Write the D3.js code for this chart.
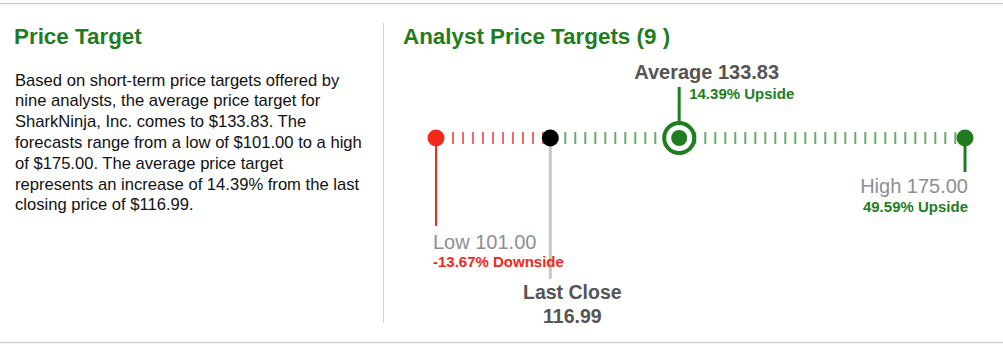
<!DOCTYPE html>
<html>
<head>
<meta charset="utf-8">
<script src="https://cdn.jsdelivr.net/npm/d3@7"></script>
<style>
  body { margin: 0; background: #fff; }
  svg { display: block; font-family: "Liberation Sans", Arial, sans-serif; }
</style>
</head>
<body>
<svg id="chart" width="1003" height="345"></svg>
<script>
// values
const lowTarget = 101.00
const highTarget = 175.00
const avgTarget = 133.83
const lastClose = 116.99
const analystCount = 9
const lowPct = '-13.67%'
const avgPct = '14.39%'
const highPct = '49.59%'

const blurbLines = [
    'Based on short-term price targets offered by',
    'nine analysts, the average price target for',
    'SharkNinja, Inc. comes to $133.83. The',
    'forecasts range from a low of $101.00 to a high',
    'of $175.00. The average price target',
    'represents an increase of 14.39% from the last',
    'closing price of $116.99.'
]

const green = '#1f7d1f'
const red = '#f2281c'
const labelGrey = '#8c8f96'
const darkGrey = '#555555'

let svg = d3.select('#chart')

// frame lines
svg.append('line').attr('x1', 0).attr('x2', 1003).attr('y1', 3.5).attr('y2', 3.5)
    .style('stroke', '#d0d0d0').style('stroke-width', 1.5)
svg.append('line').attr('x1', 0).attr('x2', 1003).attr('y1', 342.5).attr('y2', 342.5)
    .style('stroke', '#d0d0d0').style('stroke-width', 1.5)
svg.append('line').attr('x1', 383.5).attr('x2', 383.5).attr('y1', 23).attr('y2', 323)
    .style('stroke', '#d0d0d0').style('stroke-width', 1)

// left panel
svg.append('text')
    .attr('x', 14).attr('y', 44)
    .text('Price Target')
    .style('fill', green)
    .style('font-size', '22.4px')
    .style('font-weight', 'bold')

svg.append('text')
    .attr('x', 15).attr('y', 85.5)
    .style('fill', '#111')
    .style('font-size', '16.6px')
    .selectAll('tspan')
    .data(blurbLines)
    .join('tspan')
    .attr('x', 15)
    .attr('dy', (d, i) => i == 0 ? 0 : 20.8)
    .text(d => d)

// right panel
svg.append('text')
    .attr('x', 403).attr('y', 44)
    .text(`Analyst Price Targets (${analystCount} )`)
    .style('fill', green)
    .style('font-size', '22.4px')
    .style('font-weight', 'bold')

// scale gives the left edge of each marker, marker centre = left + radius
let xscale = d3.scaleLinear().domain([lowTarget, highTarget]).range([427.5, 956.5])
let lineY = 138
let dotR = 8.5
let ringR = 17

let lowX = xscale(lowTarget) + dotR
let closeX = xscale(lastClose) + dotR
let avgX = xscale(avgTarget) + ringR
let highX = xscale(highTarget) + dotR

// tick rails
svg.append('line')
    .attr('x1', lowX + 16).attr('x2', closeX - 4)
    .attr('y1', lineY).attr('y2', lineY)
    .style('stroke', '#f26a6a')
    .style('stroke-width', 12)
    .style('stroke-dasharray', '2 8')

svg.append('line')
    .attr('x1', closeX + 14).attr('x2', highX - 6)
    .attr('y1', lineY).attr('y2', lineY)
    .style('stroke', '#6cab6c')
    .style('stroke-width', 12)
    .style('stroke-dasharray', '2 8')

// stems
svg.append('line').attr('x1', lowX).attr('x2', lowX).attr('y1', lineY).attr('y2', 226)
    .style('stroke', red).style('stroke-width', 2)
svg.append('line').attr('x1', closeX).attr('x2', closeX).attr('y1', lineY).attr('y2', 279)
    .style('stroke', '#c8c8c8').style('stroke-width', 3)
svg.append('line').attr('x1', avgX).attr('x2', avgX).attr('y1', 87).attr('y2', lineY - ringR)
    .style('stroke', green).style('stroke-width', 3)
svg.append('line').attr('x1', highX).attr('x2', highX).attr('y1', lineY).attr('y2', 172)
    .style('stroke', green).style('stroke-width', 3)

// markers
svg.append('circle').attr('cx', lowX).attr('cy', lineY).attr('r', dotR).style('fill', red)
svg.append('circle').attr('cx', closeX).attr('cy', lineY).attr('r', dotR).style('fill', '#000')
svg.append('circle').attr('cx', highX).attr('cy', lineY).attr('r', dotR).style('fill', green)
svg.append('circle').attr('cx', avgX).attr('cy', lineY).attr('r', ringR - 2)
    .style('fill', '#fff').style('stroke', green).style('stroke-width', 4)
svg.append('circle').attr('cx', avgX).attr('cy', lineY).attr('r', 8).style('fill', green)

// labels
svg.append('text')
    .attr('x', avgX - 45).attr('y', 79)
    .text(`Average ${avgTarget.toFixed(2)}`)
    .style('fill', darkGrey).style('font-size', '20px').style('font-weight', 'bold')
svg.append('text')
    .attr('x', avgX + 10).attr('y', 99)
    .text(`${avgPct} Upside`)
    .style('fill', green).style('font-size', '15px').style('font-weight', 'bold')

svg.append('text')
    .attr('x', highX + 3).attr('y', 193)
    .attr('text-anchor', 'end')
    .text(`High ${highTarget.toFixed(2)}`)
    .style('fill', labelGrey).style('font-size', '20px')
svg.append('text')
    .attr('x', highX + 3).attr('y', 212)
    .attr('text-anchor', 'end')
    .text(`${highPct} Upside`)
    .style('fill', green).style('font-size', '15px').style('font-weight', 'bold')

svg.append('text')
    .attr('x', lowX - 3).attr('y', 249)
    .text(`Low ${lowTarget.toFixed(2)}`)
    .style('fill', labelGrey).style('font-size', '20px')
svg.append('text')
    .attr('x', lowX - 3).attr('y', 267)
    .text(`${lowPct} Downside`)
    .style('fill', red).style('font-size', '15px').style('font-weight', 'bold')

svg.append('text')
    .attr('x', closeX + 22).attr('y', 299)
    .attr('text-anchor', 'middle')
    .text('Last Close')
    .style('fill', darkGrey).style('font-size', '19.5px').style('font-weight', 'bold')
svg.append('text')
    .attr('x', closeX + 22).attr('y', 323)
    .attr('text-anchor', 'middle')
    .text(lastClose.toFixed(2))
    .style('fill', darkGrey).style('font-size', '19.5px').style('font-weight', 'bold')
</script>
</body>
</html>
